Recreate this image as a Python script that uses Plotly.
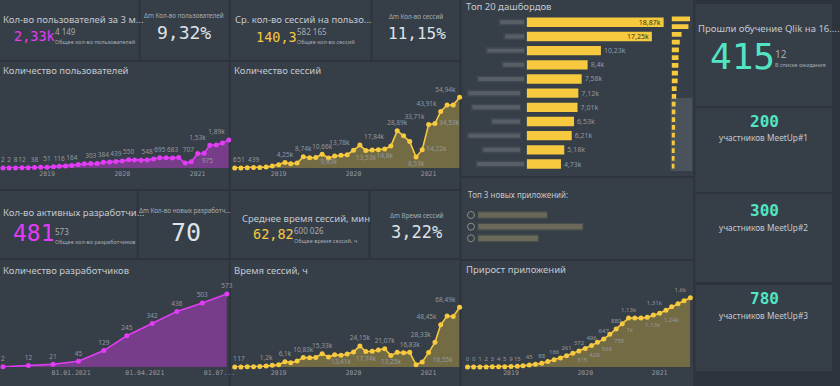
import plotly.graph_objects as go
import pandas as pd

W, H = 840, 386


def px(x):
    return x / W


def py(y):
    return 1 - y / H


# ---------------- DATA ----------------
months = pd.date_range("2018-06-01", "2021-06-01", freq="MS")  # 37 monthly points
year_ticks = ["2019-01-01", "2020-01-01", "2021-01-01"]
year_labels = ["2019", "2020", "2021"]

users = [2, 2, 8, 12, 25, 38, 45, 51, 90, 116, 140, 164, 230, 280, 303, 300, 384, 400, 439,
         480, 550, 540, 530, 548, 600, 695, 690, 683, 707, 330, 420, 975, 1000, 1530, 1560, 1680, 1890]
sessions = [6, 51, 120, 439, 450, 700, 1500, 2600, 4250, 3300, 3800, 8740, 8000, 8200, 10660, 7800,
            9300, 9830, 10300, 13780, 17840, 13530, 14000, 14200, 14800, 17000, 28890, 25000, 20500,
            8530, 14220, 33710, 34530, 43910, 49000, 49000, 54940]
session_hours = [1, 17, 150, 300, 700, 1200, 2000, 2560, 6100, 5000, 7000, 10830, 10500, 11000, 15330,
                 11500, 14200, 13410, 15000, 17300, 24150, 17740, 18000, 19500, 21070, 13250, 17000,
                 16500, 16830, 2500, 5800, 16550, 28330, 48450, 58500, 58000, 68490]
apps = [0, 0, 1, 2, 3, 4, 5, 9, 15, 30, 45, 65, 88, 125, 166, 210, 261, 315, 372, 429, 496, 569, 647,
        755, 880, 1000, 1130, 1130, 1130, 1150, 1200, 1240, 1310, 1390, 1460, 1530, 1600]

dev_dates = ["2020-10-10", "2020-11-10", "2020-12-10", "2021-01-10", "2021-02-10", "2021-03-10",
             "2021-04-10", "2021-05-10", "2021-06-10", "2021-07-10"]
devs = [2, 12, 21, 45, 129, 245, 342, 436, 503, 573]
dev_ticks = ["2021-01-01", "2021-04-01", "2021-07-01"]
dev_tick_labels = ["01.01.2021", "01.04.2021", "01.07..."]

dash_names = ["Дашборд %d" % i for i in range(1, 21)]
dash_views = [18870, 17250, 10230, 8400, 7580, 7120, 7010, 6530, 6210, 5180, 4730,
              4100, 3900, 3700, 3600, 3400, 3300, 3200, 3100, 3000]

# which point labels are visible, and where
users_lbl = {0: "top center", 1: "top center", 2: "top center", 3: "top center", 5: "top center",
             7: "top center", 9: "top center", 11: "top center", 14: "top center", 16: "top center",
             18: "top center", 20: "top center", 23: "top center", 25: "top center", 27: "top center",
             28: "top right", 31: "bottom right", 33: "top left", 36: "top left"}
sessions_lbl = {0: "top center", 1: "top center", 3: "top center", 8: "top center", 11: "top center",
                14: "top center", 17: "bottom left", 19: "top left", 20: "top right",
                21: "bottom center", 24: "bottom center", 26: "top center", 29: "bottom center",
                30: "middle right", 31: "top left", 32: "middle right", 33: "top left", 36: "top left"}
hours_lbl = {0: "top center", 1: "top center", 5: "top center", 8: "top center", 11: "top center",
             14: "top center", 17: "bottom center", 20: "top center", 21: "bottom center",
             24: "top center", 25: "bottom center", 28: "top center", 31: "bottom right",
             32: "top left", 33: "top left", 36: "top left"}
apps_lbl = {0: "top center", 1: "top center", 2: "top center", 3: "top center", 4: "top center",
            5: "top center", 6: "top center", 7: "top center", 8: "top center", 10: "top center",
            12: "top center", 14: "top center", 16: "top center", 17: "bottom right",
            18: "top center", 19: "bottom right", 20: "top center", 21: "bottom right",
            22: "top center", 23: "bottom right", 24: "top center", 25: "bottom right",
            26: "top center", 28: "bottom right", 31: "bottom right", 32: "top left",
            36: "top left"}

# ---------------- STYLE ----------------
BG = "#2d343c"
PANEL = "#363e47"
TITLE_C = "#c4c9cf"
SUB_C = "#a7adb4"
LABEL_C = "#9399a0"
BIG_C = "#dfe3e8"
MAGENTA = "#e23cf6"
YELLOW = "#f6c93f"
TEAL = "#52e5c4"
SANS = "Noto Sans, Open Sans, sans-serif"
MONO = "DejaVu Sans Mono, monospace"


def fmt(v):
    if v >= 1000:
        s = ("%.2f" % (v / 1000)).rstrip("0").rstrip(".")
        return s.replace(".", ",") + "k"
    return str(int(v))


def texts(vals, spec):
    t = [fmt(v) if i in spec else "" for i, v in enumerate(vals)]
    p = [spec.get(i, "top center") for i in range(len(vals))]
    return t, p


fig = go.Figure()


def area(xs, ys, spec, color, fill, xa, ya, lsize=6.5):
    t, p = texts(ys, spec)
    fig.add_trace(go.Scatter(
        x=xs, y=ys, mode="lines+markers+text", fill="tozeroy", fillcolor=fill,
        line=dict(color=color, width=1.6), marker=dict(color=color, size=5),
        text=t, textposition=p, textfont=dict(family=SANS, size=lsize, color=LABEL_C),
        cliponaxis=False, hoverinfo="skip", xaxis=xa, yaxis=ya, showlegend=False))


area(months, users, users_lbl, MAGENTA, "rgba(226,60,246,0.38)", "x", "y")
area(months, sessions, sessions_lbl, YELLOW, "rgba(246,201,63,0.32)", "x2", "y2")
area(dev_dates, devs, {i: "top center" for i in range(len(devs))}, MAGENTA,
     "rgba(226,60,246,0.38)", "x3", "y3")
area(months, session_hours, hours_lbl, YELLOW, "rgba(246,201,63,0.32)", "x4", "y4")
area(months, apps, apps_lbl, YELLOW, "rgba(246,201,63,0.32)", "x5", "y5", 6)

# top 20 bars
bar_pos = ["inside" if i < 2 else "outside" for i in range(len(dash_views))]
bar_tc = ["#3b3520" if i < 2 else LABEL_C for i in range(len(dash_views))]
fig.add_trace(go.Bar(
    x=dash_views, y=dash_names, orientation="h", marker=dict(color=YELLOW, line=dict(width=0)),
    text=[fmt(v) for v in dash_views], textposition=bar_pos, insidetextanchor="end",
    constraintext="none", textangle=0,
    textfont=dict(family=SANS, size=7, color=bar_tc), cliponaxis=False, width=0.66,
    hoverinfo="skip", xaxis="x6", yaxis="y6", showlegend=False))
# mini scroll chart
fig.add_trace(go.Bar(
    x=dash_views, y=dash_names, orientation="h", marker=dict(color=YELLOW, line=dict(width=0)),
    width=0.6, hoverinfo="skip", xaxis="x7", yaxis="y7", showlegend=False))

# ---------------- AXES ----------------
ax_common = dict(showgrid=False, zeroline=False, showline=False, ticks="", fixedrange=True)
tickf = dict(family=MONO, size=6.5, color=LABEL_C)


def set_axes(n, xdom, ydom, xrange, yrange, xtype="date", tickvals=None, ticktext=None):
    xn = "xaxis" if n == 1 else "xaxis%d" % n
    yn = "yaxis" if n == 1 else "yaxis%d" % n
    xid = "x" if n == 1 else "x%d" % n
    yid = "y" if n == 1 else "y%d" % n
    xa = dict(ax_common, domain=[px(xdom[0]), px(xdom[1])], anchor=yid, range=xrange,
              tickfont=tickf)
    if xtype:
        xa["type"] = xtype
    if tickvals is not None:
        xa.update(tickmode="array", tickvals=tickvals, ticktext=ticktext)
    else:
        xa["showticklabels"] = False
    ya = dict(ax_common, domain=[py(ydom[1]), py(ydom[0])], anchor=xid, range=yrange,
              showticklabels=False)
    fig.update_layout(**{xn: xa, yn: ya})


r_months = [months[0], months[-1]]
set_axes(1, (3, 231), (85, 168), r_months, [0, 5600], "date", year_ticks, year_labels)
set_axes(2, (237, 464), (85, 168), r_months, [0, 64500], "date", year_ticks, year_labels)
set_axes(3, (3, 229), (282, 367), [dev_dates[0], dev_dates[-1]], [0, 667], "date",
         dev_ticks, dev_tick_labels)
set_axes(4, (237, 464), (282, 367), r_months, [0, 97600], "date", year_ticks, year_labels)
set_axes(5, (472, 697), (282, 367), r_months, [0, 1964], "date", year_ticks, year_labels)
set_axes(6, (531.7, 678.3), (15.2, 171.1), [0, 20000], [10.5, -0.5], None)
set_axes(7, (678, 698), (15, 170), [0, 20200], [19.5, -0.5], None)
fig.update_layout(yaxis6=dict(type="category"), yaxis7=dict(type="category"))

# ---------------- PANELS ----------------
panels = [(0, 0, 140, 60), (142, 0, 231, 60), (233, 0, 374, 60), (376, 0, 464, 60),
          (0, 62, 231, 189), (233, 62, 464, 189), (466, 0, 700, 176),
          (702, 4, 840, 106), (702, 108, 840, 192), (702, 194, 840, 282), (702, 285, 840, 371),
          (0, 191, 138, 258), (140, 191, 231, 258), (233, 191, 372, 258), (374, 191, 464, 258),
          (0, 260, 231, 386), (233, 260, 464, 386), (466, 178, 700, 259), (466, 261, 700, 386)]
shapes = []
for x0, y0, x1, y1 in panels:
    shapes.append(dict(type="rect", xref="paper", yref="paper", x0=px(x0), x1=px(x1),
                       y0=py(y1), y1=py(y0), fillcolor=PANEL, line=dict(width=0), layer="below"))
# scroll track (hidden part of list)
shapes.append(dict(type="rect", xref="paper", yref="paper", x0=px(677), x1=px(699),
                   y0=py(171), y1=py(98), fillcolor="#4a525b", line=dict(width=0), layer="below"))
# redacted (blurred) dashboard names
blur_rows = [(505, 529), (510, 529), (492, 529), (508, 529), (483, 529), (473, 525), (477, 525),
             (497, 525), (473, 525), (488, 525), (482, 529)]
for i, (a, b) in enumerate(blur_rows):
    shapes.append(dict(type="rect", xref="paper", yref="y6", x0=px(a - 2), x1=px(b + 1),
                       y0=i - 0.25, y1=i + 0.25, fillcolor="rgba(120,127,135,0.15)",
                       line=dict(width=0), layer="below"))
    shapes.append(dict(type="rect", xref="paper", yref="y6", x0=px(a), x1=px(b),
                       y0=i - 0.14, y1=i + 0.14, fillcolor="rgba(125,131,138,0.38)",
                       line=dict(width=0), layer="below"))
# top 3 new apps list (redacted names)
for yc, xe in [(215, 552), (226.7, 588), (238.3, 543)]:
    shapes.append(dict(type="circle", xref="paper", yref="paper", x0=px(472), x1=px(479),
                       y0=py(yc + 3.5), y1=py(yc - 3.5), line=dict(color="#8f8f82", width=1)))
    shapes.append(dict(type="rect", xref="paper", yref="paper", x0=px(482), x1=px(xe + 1),
                       y0=py(yc + 4), y1=py(yc - 4), fillcolor="rgba(150,142,105,0.18)",
                       line=dict(width=0)))
    shapes.append(dict(type="rect", xref="paper", yref="paper", x0=px(483), x1=px(xe),
                       y0=py(yc + 2.6), y1=py(yc - 2.6), fillcolor="rgba(160,150,110,0.4)",
                       line=dict(width=0)))

# ---------------- TEXT ----------------
ann = []


def txt(x, y, s, size, color, family=SANS, anchor="left"):
    ann.append(dict(x=px(x), y=py(y), xref="paper", yref="paper", text=s, showarrow=False,
                    xanchor=anchor, yanchor="middle", font=dict(family=family, size=size, color=color),
                    borderpad=0))


# row 1 KPIs
txt(2, 20, "Кол-во пользователей за 3 м...", 9.5, TITLE_C)
txt(13, 36, "2,33k", 13.5, MAGENTA, MONO)
txt(55, 31.5, "4 149", 8, SUB_C)
txt(55, 42, "Общее кол-во пользователей", 5.6, SUB_C)
txt(186, 15.5, "Δm Кол-во пользователей", 6.3, SUB_C, SANS, "center")
txt(186, 33, "9,32%", 18, BIG_C, MONO, "center")
txt(236, 20, "Ср. кол-во сессий на пользо...", 9.5, TITLE_C)
txt(257, 36.5, "140,3", 13.5, YELLOW, MONO)
txt(299, 31.5, "582 165", 8, SUB_C)
txt(299, 42, "Общее кол-во сессий", 5.6, SUB_C)
txt(420, 16.5, "Δm Кол-во сессий", 6.3, SUB_C, SANS, "center")
txt(421, 34, "11,15%", 16, BIG_C, MONO, "center")
# row 2 KPIs
txt(2, 213, "Кол-во активных разработчи...", 9.5, TITLE_C)
txt(12, 233, "481", 23, MAGENTA, MONO)
txt(55, 231.5, "573", 8, SUB_C)
txt(55, 241.5, "Общее кол-во разработчиков", 5.6, SUB_C)
txt(187, 210, "Δm Кол-во новых разработч...", 6.3, SUB_C, SANS, "center")
txt(188, 232.5, "70", 25, BIG_C, MONO, "center")
txt(243, 218, "Среднее время сессий, мин", 9.5, TITLE_C)
txt(254, 234, "62,82", 13.5, YELLOW, MONO)
txt(296, 230.5, "600 026", 8, SUB_C)
txt(296, 240.5, "Общее время сессий, ч", 5.6, SUB_C)
txt(421, 215, "Δm Время сессий", 6.3, SUB_C, SANS, "center")
txt(421, 231.5, "3,22%", 17, BIG_C, MONO, "center")
# chart titles
txt(2, 70.5, "Количество пользователей", 9.5, TITLE_C)
txt(235, 70.5, "Количество сессий", 9.5, TITLE_C)
txt(2, 270, "Количество разработчиков", 9.5, TITLE_C)
txt(235, 270, "Время сессий, ч", 9.5, TITLE_C)
txt(469, 269.5, "Прирост приложений", 9.5, TITLE_C)
txt(469, 6, "Топ 20 дашбордов", 9.5, TITLE_C)
txt(471, 194, "Топ 3 новых приложений:", 8, TITLE_C)
# right column
txt(704, 28.5, "Прошли обучение Qlik на 16....", 9.5, TITLE_C)
txt(716, 57, "415", 36, TEAL, MONO)
txt(781, 54, "12", 10, SUB_C)
txt(781, 65, "В списке ожидания", 5.4, SUB_C)
for yv, yl, v, lab in [(121, 137.5, "<b>200</b>", "участников MeetUp#1"),
                       (210, 227, "<b>300</b>", "участников MeetUp#2"),
                       (298.5, 315, "<b>780</b>", "участников MeetUp#3")]:
    txt(772, yv, v, 16, TEAL, MONO, "center")
    txt(771, yl, lab, 8.3, TITLE_C, SANS, "center")

fig.update_layout(
    width=W, height=H, autosize=False, margin=dict(l=0, r=0, t=0, b=0, pad=0),
    paper_bgcolor=BG, plot_bgcolor="rgba(0,0,0,0)", shapes=shapes, annotations=ann,
    showlegend=False, hovermode=False,
)

fig.write_html("out.html", config={"displayModeBar": False},
               post_script="document.body.style.margin='0';document.body.style.overflow='hidden';")
